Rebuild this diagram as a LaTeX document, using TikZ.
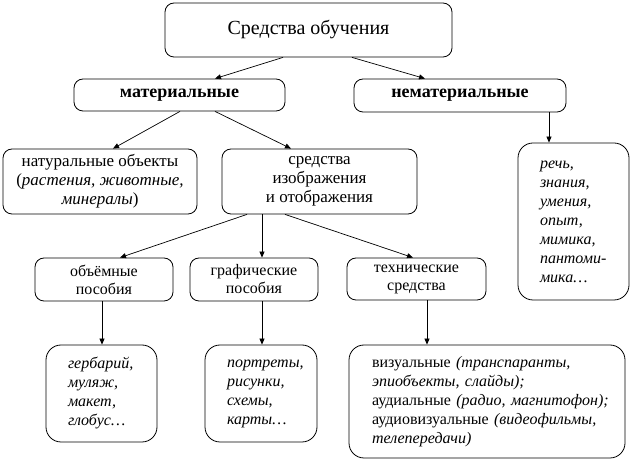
\documentclass[tikz,border=0pt]{standalone}
\usepackage{fontspec}
\setmainfont{LiberationSerif}[Extension=.ttf, UprightFont=*-Regular, BoldFont=*-Bold, ItalicFont=*-Italic, BoldItalicFont=*-BoldItalic]
\usepackage{tikz}
\usetikzlibrary{arrows.meta}

\tikzset{
  blok/.style={draw, line width=0.8pt, rounded corners=9pt, align=center, inner sep=0pt},
  spisok/.style={blok, rounded corners=15pt, align=left, inner xsep=22pt,
    font=\fontsize{16}{19}\selectfont},
  strelka/.style={-{Triangle[length=6pt,width=5pt]}, line width=0.7pt}
}

\begin{document}
\begin{tikzpicture}[x=1pt, y=-1pt]
        \useasboundingbox (0,0) rectangle (633,462);

        % Верхний уровень
        \node[blok, minimum width=287pt, minimum height=54pt, font=\fontsize{20}{24}\selectfont]
          (glav) at (308.5,30) {Средства обучения};

        % Второй уровень
        \node[blok, minimum width=211pt, minimum height=32pt, font=\fontsize{18}{22}\selectfont\bfseries]
          (mat) at (179.5,95) {материальные};
        \node[blok, minimum width=212pt, minimum height=33pt, font=\fontsize{18}{22}\selectfont\bfseries]
          (nemat) at (460,95.5) {нематериальные};

        % Третий уровень
        \node[blok, minimum width=194pt, minimum height=65pt, font=\fontsize{17}{19}\selectfont]
          (nat) at (100,181.5) {натуральные объекты\\(\textit{растения, животные,}\\\textit{минералы})};
        \node[blok, minimum width=195pt, minimum height=65pt, font=\fontsize{17}{19}\selectfont]
          (sred) at (319.5,181.5) {средства\\изображения\\и отображения};
        \node[spisok, text width=67pt, minimum height=157pt]
          (rech) at (573.5,221.5) {\textit{речь,}\\\textit{знания,}\\\textit{умения,}\\\textit{опыт,}\\\textit{мимика,}\\\textit{пантоми-}\\\textit{мика\dots}};

        % Четвёртый уровень
        \node[blok, minimum width=138pt, minimum height=43pt, font=\fontsize{16}{18}\selectfont]
          (obj) at (104,279.5) {объёмные\\пособия};
        \node[blok, minimum width=128pt, minimum height=43pt, font=\fontsize{16}{18}\selectfont]
          (graf) at (254,279.5) {графические\\пособия};
        \node[blok, minimum width=139pt, minimum height=42pt, font=\fontsize{16}{18}\selectfont]
          (tech) at (416.5,279) {технические\\средства};

        % Нижний уровень
        \node[spisok, text width=67pt, minimum height=97pt]
          (gerb) at (101.5,393.5) {\textit{гербарий,}\\\textit{муляж,}\\\textit{макет,}\\\textit{глобус\dots}};
        \node[spisok, text width=68pt, minimum height=97pt]
          (port) at (261,393.5) {\textit{портреты,}\\\textit{рисунки,}\\\textit{схемы,}\\\textit{карты\dots}};
        \node[spisok, text width=230pt, inner xsep=23pt, minimum height=113pt]
          (viz) at (487,401.5) {визуальные~\textit{(транспаранты,}\\\textit{эпиобъекты,~слайды);}\\аудиальные~\textit{(радио,~магнитофон);}\\аудиовизуальные~\textit{(видеофильмы,}\\\textit{телепередачи)}};

        % Стрелки
        \draw[strelka] ([xshift=-25.5pt]glav.south) -- ([xshift=35.5pt]mat.north);
        \draw[strelka] ([xshift=43.5pt]glav.south) -- ([xshift=-35pt]nemat.north);
        \draw[strelka] ([xshift=0.5pt]mat.south) -- ([xshift=13pt]nat.north);
        \draw[strelka] ([xshift=35.5pt]mat.south) -- ([xshift=-28.5pt]sred.north);
        \draw[strelka] ([xshift=89pt]nemat.south) -- ([xshift=-24.5pt]rech.north);
        \draw[strelka] ([xshift=-72.5pt]sred.south) -- ([xshift=16pt]obj.north);
        \draw[strelka] ([xshift=-57.5pt]sred.south) -- ([xshift=8pt]graf.north);
        \draw[strelka] ([xshift=-34.5pt]sred.south) -- ([xshift=-3.5pt]tech.north);
        \draw[strelka] ([xshift=-2pt]obj.south) -- ([xshift=0.5pt]gerb.north);
        \draw[strelka] ([xshift=8pt]graf.south) -- ([xshift=1pt]port.north);
        \draw[strelka] ([xshift=10.5pt]tech.south) -- ([xshift=-60pt]viz.north);
    \end{tikzpicture}
\end{document}
